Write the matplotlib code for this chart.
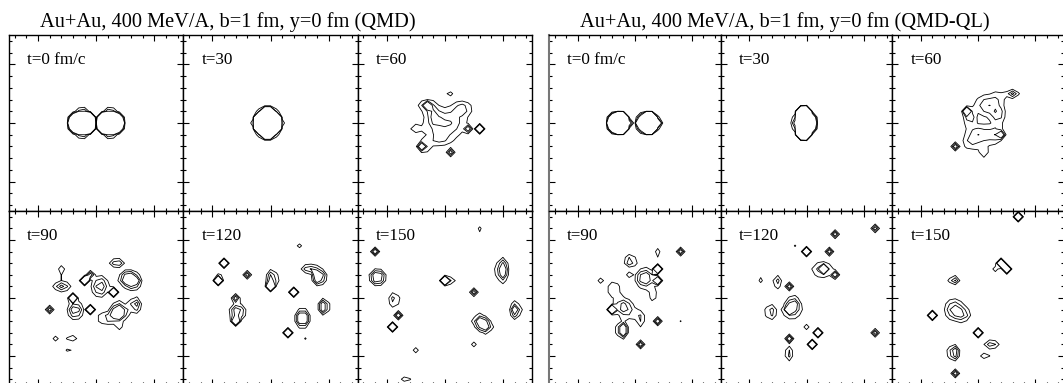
import matplotlib.pyplot as plt
import numpy as np
from matplotlib.ticker import MultipleLocator

# density snapshots, Au+Au 400 MeV/A, b=1 fm, cut at y=0 (x-z plane, fm)
# points: (x, z, peak) -> one grid node, blobs: (x, z, peak, sx, sz)
times = ["t=0 fm/c", "t=30", "t=60", "t=90", "t=120", "t=150"]
titles = ["Au+Au, 400 MeV/A, b=1 fm, y=0 fm (QMD)",
          "Au+Au, 400 MeV/A, b=1 fm, y=0 fm (QMD-QL)"]
levels = [1, 2, 3]

qmd_t0_points = []
qmd_t0_blobs = [(-2.4, 0, 1000, 0.6, 0.6), (2.4, 0, 1000, 0.6, 0.6)]
qmd_t30_points = []
qmd_t30_blobs = [(-0.5, 0, 1000, 0.7, 0.7)]
qmd_t60_points = [(-3, 3, 4.2), (4, -1, 4.0), (6, -1, 12), (1, -5, 4.2), (-4, -4, 4.0)]
qmd_t60_blobs = [(0.3, 0.0, 3.3, 2.2, 1.6), (-3.4, 3.0, 2.4, 0.8, 0.7),
                 (-2.0, 1.5, 2.4, 0.7, 1.4), (3.0, 2.5, 2.6, 1.1, 0.8),
                 (-5.0, -0.9, 1.8, 0.8, 0.6), (-3.6, -4.1, 2.2, 0.8, 0.8),
                 (0.75, 4.9, 1.6, 0.6, 0.35), (-1.0, -2.8, 2.0, 1.5, 0.8)]
qmd_t90_points = [(-2, 3, 12), (-1, 4, 4.0), (-4, 0, 12), (3, 1, 12), (-1, -2, 12),
                  (-8, -2, 4.2), (4, -5, 1.7), (-7, -7, 1.7)]
qmd_t90_blobs = [(-5.9, 4.8, 1.7, 0.6, 0.8), (-5.9, 2.0, 3.6, 0.9, 0.6),
                 (0.7, 2.0, 4.2, 0.9, 1.1), (-3.6, -2.1, 4.6, 0.8, 0.9),
                 (6.7, -1.2, 4.2, 0.6, 0.8), (3.9, -2.4, 7.0, 0.8, 0.9),
                 (1.8, -3.5, 2.8, 1.2, 0.6), (3.6, 6.1, 3.4, 0.8, 0.5),
                 (5.5, 3.3, 5.5, 0.9, 0.8), (6.5, 2.8, 4.5, 0.7, 0.7),
                 (-4.2, -6.8, 1.8, 0.9, 0.5), (-4.6, -9.0, 1.5, 0.6, 0.35)]
qmd_t120_points = [(-8, 6, 12), (-9, 3, 12), (-4, 4, 4.2), (0, 2, 12), (4, 1, 12),
                   (-6, 0, 4.2), (-6, -4, 8), (3, -6, 12), (6, -7, 1.15)]
qmd_t120_blobs = [(4.9, 9.0, 1.5, 0.5, 0.3), (-8.6, 3.8, 1.8, 0.5, 0.5),
                  (0.3, 3.2, 5.0, 0.5, 1.0), (8.3, 3.7, 7.0, 0.6, 0.8),
                  (6.6, 5.1, 3.4, 0.8, 0.5), (-5.7, -2.4, 4.6, 0.8, 0.9),
                  (5.5, -3.5, 7.0, 0.6, 0.9), (9.2, -1.5, 5.5, 0.5, 0.8)]
qmd_t150_points = [(-12, 8, 5.0), (0, 3, 12), (5, 1, 4.2), (-8, -3, 5.0),
                   (-9, -5, 12), (5, -8, 1.7), (-5, -9, 1.8)]
qmd_t150_blobs = [(6.0, 11.7, 1.5, 0.35, 0.6), (-11.6, 3.6, 5.5, 0.8, 0.8),
                  (0.8, 3.0, 2.2, 0.8, 0.5), (9.9, 4.8, 5.5, 0.6, 1.2),
                  (-8.7, -0.3, 2.8, 0.6, 0.9), (12.2, -2.1, 5.5, 0.5, 0.8),
                  (6.0, -4.0, 4.5, 0.7, 0.7), (7.0, -4.9, 4.5, 0.7, 0.7),
                  (-6.7, -13.9, 1.7, 0.8, 0.4)]

ql_t0_points = []
ql_t0_blobs = [(-2.7, 0, 1000, 0.52, 0.52), (2.4, 0, 1000, 0.52, 0.52)]
ql_t30_points = []
ql_t30_blobs = [(-0.4, 0, 1000, 0.48, 0.83)]
ql_t60_points = [(-4, -4, 4.5), (4, -2, 4.0), (-2, 2, 8)]
ql_t60_blobs = [(6.0, 4.9, 3.6, 0.7, 0.45), (1.5, 3.0, 3.0, 1.4, 1.2),
                (3.5, 1.5, 2.6, 0.8, 1.2), (-1.5, 1.0, 3.8, 0.5, 0.9),
                (0.0, -2.0, 3.0, 1.5, 1.2), (3.0, -2.0, 2.6, 1.0, 1.0),
                (1.0, -5.0, 1.8, 0.7, 0.8), (-1.5, -3.5, 1.8, 0.8, 0.6),
                (3.5, 4.5, 1.6, 0.8, 0.6)]
ql_t90_points = [(8, 8, 4.5), (-1, 4, 1.7), (-6, 3, 1.7), (4, 5, 12), (4, 3, 8),
                 (-4, -2, 12), (4, -4, 5.0), (8, -4, 1.1), (1, -8, 4.5)]
ql_t90_blobs = [(4.0, 7.8, 1.6, 0.45, 0.8), (-0.8, 6.4, 3.8, 0.7, 0.55),
                (1.8, 3.4, 5.0, 1.0, 1.0), (3.3, 0.5, 1.8, 0.6, 1.0),
                (-2.0, -1.5, 4.0, 1.0, 0.9), (-3.7, 1.5, 1.8, 1.0, 1.2),
                (1.0, -3.8, 2.0, 0.6, 1.0), (-0.5, -2.7, 1.6, 1.2, 0.6),
                (-2.2, -5.5, 7.0, 0.5, 0.8)]
ql_t120_points = [(12, 12, 4.2), (5, 11, 4.5), (-2, 9, 1.15), (0, 8, 12), (4, 8, 4.5),
                  (3, 5, 12), (5, 4, 4.5), (-3, 2, 4.5), (-3, -2, 12), (0, -5, 1.8),
                  (2, -6, 12), (1, -8, 12), (-3, -7, 5.0), (12, -6, 4.2)]
ql_t120_blobs = [(2.8, 4.9, 2.8, 1.3, 0.9), (-8.0, 3.2, 1.5, 0.3, 0.6),
                 (-5.2, 2.8, 2.8, 0.5, 0.8), (-2.3, -1.0, 3.6, 0.7, 0.8),
                 (-6.3, -2.4, 3.0, 0.6, 0.9), (-2.6, -2.2, 2.5, 1.2, 1.0),
                 (-3.2, -9.6, 2.8, 0.45, 0.9)]
ql_t150_points = [(7, 14, 12), (4, 6, 12), (5, 5, 12), (3, 5, 1.8), (-8, -3, 12),
                  (0, -6, 12), (-4, -13, 4.5)]
ql_t150_blobs = [(-0.4, 10.6, 1.6, 0.45, 0.9), (-4.2, 3.2, 3.8, 0.6, 0.45),
                 (-4.2, -2.0, 4.0, 1.0, 1.1), (-2.6, -2.9, 2.8, 0.8, 0.8),
                 (2.3, -8.0, 2.8, 0.9, 0.55), (1.2, -10.0, 1.7, 0.8, 0.45),
                 (-4.3, -9.4, 5.5, 0.5, 0.8)]

qmd = [(qmd_t0_points, qmd_t0_blobs), (qmd_t30_points, qmd_t30_blobs),
       (qmd_t60_points, qmd_t60_blobs), (qmd_t90_points, qmd_t90_blobs),
       (qmd_t120_points, qmd_t120_blobs), (qmd_t150_points, qmd_t150_blobs)]
ql = [(ql_t0_points, ql_t0_blobs), (ql_t30_points, ql_t30_blobs),
      (ql_t60_points, ql_t60_blobs), (ql_t90_points, ql_t90_blobs),
      (ql_t120_points, ql_t120_blobs), (ql_t150_points, ql_t150_blobs)]

# 1 fm grid, like the original
grid = np.arange(-15, 16)
X, Z = np.meshgrid(grid, grid)


def density(points, blobs):
    d = np.zeros(X.shape)
    for x, z, peak in points:
        d[int(round(z)) + 15, int(round(x)) + 15] += peak
    for x, z, peak, sx, sz in blobs:
        d += peak * np.exp(-0.5 * (((X - x) / sx) ** 2 + ((Z - z) / sz) ** 2))
    return d


plt.rcParams['font.family'] = ['Liberation Serif', 'DejaVu Serif']
W, H = 1063, 383
fig = plt.figure(figsize=(W / 100, H / 100), dpi=100)

groups = [(9, 532), (549, 1064)]
rows = [(35, 211), (211, 385)]

for g, (gx0, gx1) in enumerate(groups):
    data = [qmd, ql][g]
    cw = (gx1 - gx0) / 3
    fig.text((gx0 + 31) / W, 1 - 27 / H, titles[g], fontsize=14.7, va='baseline')
    for i in range(6):
        r, c = divmod(i, 3)
        y0, y1 = rows[r]
        left = gx0 + c * cw
        ax = fig.add_axes([left / W, 1 - y1 / H, cw / W, (y1 - y0) / H])
        d = density(*data[i])
        ax.contour(X, Z, d, levels=levels, colors='k', linewidths=0.6)
        ax.set_xlim(-15, 15)
        ax.set_ylim(-15, 15)
        for a in (ax.xaxis, ax.yaxis):
            a.set_major_locator(MultipleLocator(10))
            a.set_minor_locator(MultipleLocator(2))
        ax.tick_params(which='both', direction='in', top=True, right=True,
                       labelbottom=False, labelleft=False, width=0.8)
        ax.tick_params(which='major', length=4.3)
        ax.tick_params(which='minor', length=2.2)
        for s in ax.spines.values():
            s.set_linewidth(1.0)
        if g == 1 and c == 0:
            ax.spines['left'].set_color('#777777')
            ax.spines['left'].set_linewidth(1.5)
        ax.text(18 / cw, 1 - 29 / (y1 - y0), times[i], transform=ax.transAxes,
                fontsize=12.3, va='baseline')

fig.savefig("out.png", dpi=100)
